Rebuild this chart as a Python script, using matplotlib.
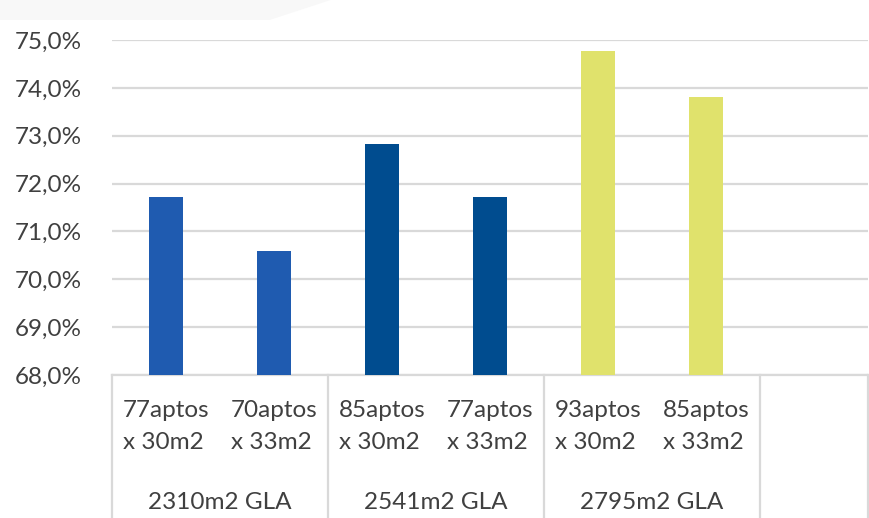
import matplotlib.pyplot as plt
from matplotlib.patches import Polygon
from matplotlib.transforms import blended_transform_factory

plt.rcParams['font.family'] = ['Lato', 'DejaVu Sans']

units = ["77aptos\nx 30m2", "70aptos\nx 33m2",
         "85aptos\nx 30m2", "77aptos\nx 33m2",
         "93aptos\nx 30m2", "85aptos\nx 33m2", ""]
values = [71.71, 70.60, 72.83, 71.72, 74.78, 73.81]
groups = ["2310m2 GLA", "2541m2 GLA", "2795m2 GLA"]
colors = ["#1f5bb0", "#1f5bb0", "#004c8f", "#004c8f", "#e0e26c", "#e0e26c"]
yticks = [68, 69, 70, 71, 72, 73, 74, 75]

fig = plt.figure(figsize=(8.7, 5.18), dpi=100)
ax = fig.add_axes([112 / 870, 1 - 375 / 518, 756 / 870, 335 / 518])

# faint grey band at the top left of the screenshot
fig.patches.append(Polygon([[0, 1], [0.38, 1], [0.31, 1 - 20 / 518], [0, 1 - 20 / 518]],
                           closed=True, transform=fig.transFigure,
                           facecolor="#f8f8f8", edgecolor="none", zorder=0))

ax.bar(range(len(values)), values, width=0.31, color=colors, zorder=3)
ax.set_ylim(68, 75)
ax.set_xlim(-0.5, 6.5)
ax.set_yticks(yticks)
ax.set_yticklabels([f"{v:.1f}%".replace(".", ",") for v in yticks])
ax.grid(axis="y", color="#d9d9d9", linewidth=1.6, zorder=0)
for s in ["top", "right", "left"]:
    ax.spines[s].set_visible(False)
ax.spines["bottom"].set_color("#d9d9d9")
ax.spines["bottom"].set_linewidth(1.6)

ax.tick_params(axis="y", length=0, pad=22, labelsize=17.5, labelcolor="#404040")
ax.set_xticks(range(len(units)))
ax.set_xticklabels(units, linespacing=1.65)
for lbl in ax.get_xticklabels():
    lbl.set_multialignment("left")
ax.tick_params(axis="x", length=0, pad=18, labelsize=17.5, labelcolor="#404040")

trans = blended_transform_factory(ax.transData, ax.transAxes)
for i, g in enumerate(groups):
    ax.text(2 * i + 0.5, -0.382, g, transform=trans, ha="center", va="center",
            fontsize=17.5, color="#404040")
for xs in [-0.5, 1.5, 3.5, 5.5, 6.5]:
    ax.plot([xs, xs], [0, -0.43], transform=trans, color="#d9d9d9",
            linewidth=1.6, clip_on=False)

fig.savefig("out.png", dpi=100)
